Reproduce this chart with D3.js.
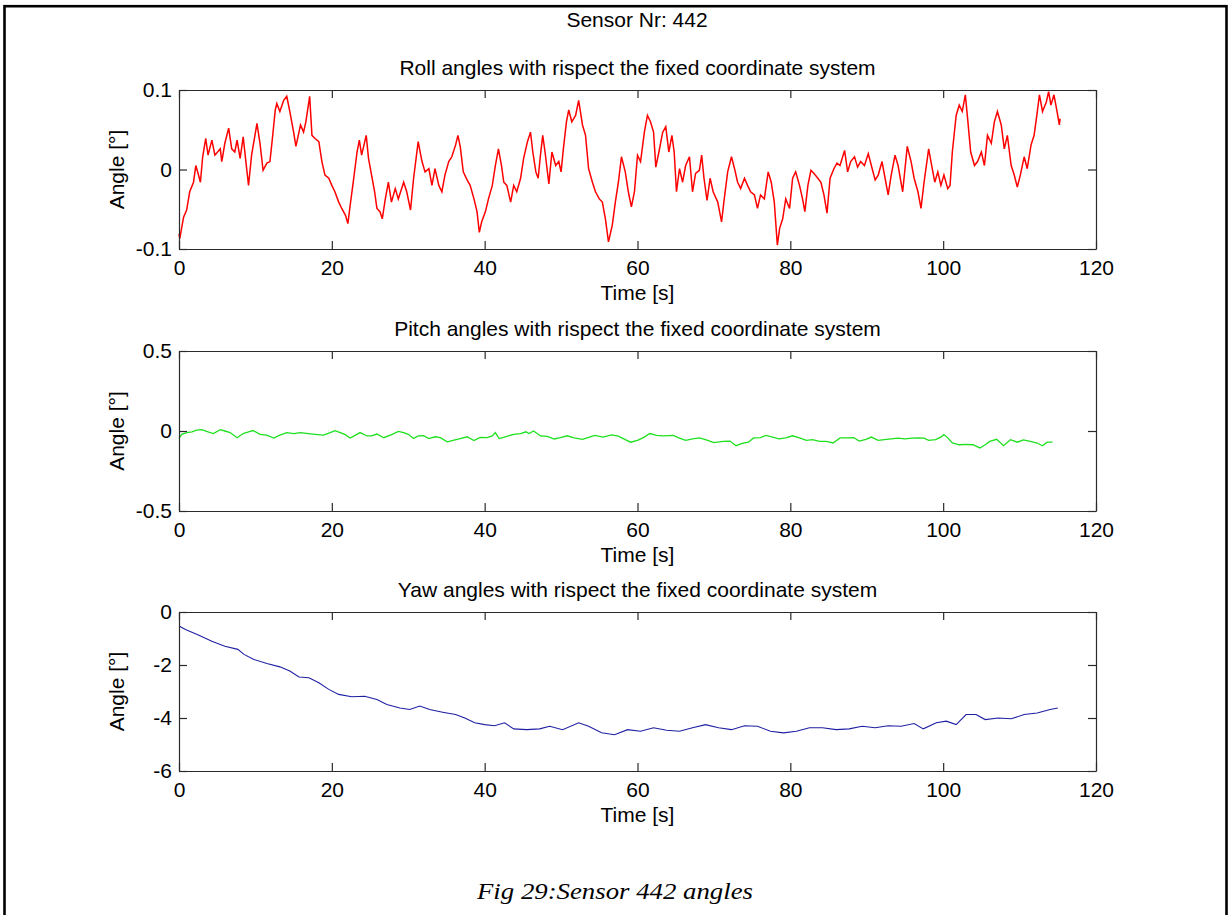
<!DOCTYPE html>
<html>
<head>
<meta charset="utf-8">
<script src="https://cdnjs.cloudflare.com/ajax/libs/d3/7.8.5/d3.min.js"></script>
<style>
  html, body { margin: 0; padding: 0; background: #fff; }
  svg text { font-family: "Liberation Sans", Arial, sans-serif; fill: #000; }
</style>
</head>
<body>
<div id="chart"></div>
<script>
// time ticks shared by the three subplots
var timeTicks = [0, 20, 40, 60, 80, 100, 120];
var rollTicks = [-0.1, 0, 0.1];
var pitchTicks = [-0.5, 0, 0.5];
var yawTicks = [-6, -4, -2, 0];

var figTitle = 'Sensor Nr: 442';
var caption = 'Fig 29:Sensor 442 angles';
var subTitles = [
  'Roll angles with rispect the fixed coordinate system',
  'Pitch angles with rispect the fixed coordinate system',
  'Yaw angles with rispect the fixed coordinate system'
];

// roll
var rollTime = [0,0.1,0.6,1.0,1.4,1.9,2.2,2.5,2.8,3.1,3.5,3.8,4.3,4.7,5.4,5.6,6.0,6.5,6.9,7.3,7.6,8.0,8.4,8.9,9.1,9.5,
  10.2,10.6,11.0,11.5,11.9,12.2,12.6,12.8,13.2,13.7,14.1,14.5,15.0,15.3,15.9,16.3,16.6,17.1,17.4,17.8,18.3,18.7,19.1,19.6,
  20.0,20.4,20.9,21.3,21.8,22.1,22.4,22.8,23.3,23.6,23.9,24.5,24.8,25.2,25.6,25.9,26.3,26.6,27.0,27.4,27.8,28.3,28.7,29.4,29.8,
  30.3,30.7,31.3,31.8,32.2,32.7,33.1,33.5,34.0,34.4,34.8,35.3,35.7,36.2,36.5,36.8,37.2,37.7,38.1,38.6,39.0,39.3,39.6,
  40.1,40.5,41.0,41.4,41.8,42.2,42.5,42.9,43.4,43.8,44.2,44.7,45.1,45.6,46.0,46.3,46.7,47.0,47.3,47.6,47.9,48.4,48.8,49.3,49.7,
  50.0,50.3,50.7,51.0,51.4,51.9,52.3,52.8,53.2,53.6,54.1,54.5,55.0,55.4,55.8,56.2,56.7,57.1,57.5,57.9,58.4,58.8,59.2,59.6,
  60.0,60.4,60.9,61.3,61.7,62.1,62.4,62.8,63.3,63.7,64.1,64.5,64.8,65.1,65.5,65.9,66.3,66.8,67.2,67.6,68.1,68.4,68.7,69.1,69.5,69.9,
  70.5,71.0,71.3,71.8,72.3,72.7,73.1,73.5,74.0,74.4,74.8,75.3,75.7,76.1,76.6,77.1,77.5,77.9,78.3,78.6,79.0,79.4,79.9,
  80.3,80.7,81.2,81.6,81.9,82.3,82.7,83.1,83.6,84.0,84.4,84.8,85.2,85.7,86.1,86.5,87.1,87.5,87.9,88.4,88.8,89.2,89.7,
  90.2,90.6,91.1,91.5,92.0,92.4,92.8,93.2,93.7,94.1,94.7,95.1,95.3,95.8,96.2,96.7,97.1,97.5,98.1,98.5,98.9,99.3,99.7,
  100.1,100.6,100.9,101.2,101.7,102.1,102.5,102.9,103.2,103.6,104.1,104.5,105.0,105.4,105.8,106.3,106.7,107.1,107.6,108.0,108.4,108.9,109.3,109.7,
  110.1,110.6,111.0,111.5,111.9,112.2,112.6,113.0,113.5,113.8,114.1,114.5,114.9,115.2,115.3];
var rollAngle = [-0.081,-0.087,-0.060,-0.051,-0.028,-0.016,0.005,-0.005,-0.016,0.016,0.039,0.018,0.037,0.018,0.026,0.010,0.033,0.052,0.026,0.022,0.037,0.014,0.041,-0.003,-0.020,0.018,
  0.058,0.033,-0.001,0.008,0.010,0.037,0.075,0.083,0.073,0.087,0.092,0.073,0.047,0.029,0.056,0.047,0.060,0.092,0.043,0.039,0.035,0.010,-0.007,-0.011,
  -0.020,-0.028,-0.041,-0.049,-0.058,-0.068,-0.045,-0.016,0.022,0.037,0.018,0.043,0.014,-0.007,-0.028,-0.049,-0.053,-0.062,-0.037,-0.016,-0.041,-0.024,-0.037,-0.016,-0.028,
  -0.051,-0.011,0.035,0.010,-0.003,0.001,-0.020,0.001,-0.020,-0.028,-0.007,0.010,0.016,0.031,0.043,0.029,-0.003,-0.013,-0.020,-0.037,-0.053,-0.079,-0.066,
  -0.053,-0.037,-0.020,0.005,0.026,0.005,-0.016,-0.020,-0.041,-0.020,-0.028,-0.011,0.014,0.035,0.047,0.022,-0.003,-0.011,0.018,0.043,0.022,-0.018,0.022,0.005,0.010,
  -0.003,0.026,0.060,0.075,0.060,0.068,0.087,0.056,0.043,0.001,-0.016,-0.028,-0.037,-0.041,-0.062,-0.091,-0.070,-0.041,-0.016,0.016,-0.003,-0.028,-0.047,-0.028,
  0.018,0.010,0.047,0.068,0.060,0.047,0.003,0.022,0.047,0.054,0.022,0.043,0.022,-0.028,0.001,-0.016,0.005,0.016,-0.028,-0.005,-0.001,0.018,-0.011,-0.039,-0.011,-0.028,
  -0.041,-0.066,-0.041,-0.003,0.016,0.001,-0.016,-0.024,-0.011,-0.020,-0.028,-0.032,-0.049,-0.032,-0.037,-0.003,-0.016,-0.041,-0.095,-0.074,-0.062,-0.037,-0.049,
  -0.011,-0.003,-0.020,-0.037,-0.053,-0.020,-0.001,-0.005,-0.011,-0.016,-0.032,-0.055,-0.011,0.001,0.008,0.005,0.024,-0.003,0.010,0.016,0.003,0.010,0.005,
  0.020,0.005,-0.013,-0.007,0.010,-0.011,-0.032,-0.007,0.018,0.005,-0.028,0.010,0.029,0.010,-0.011,-0.028,-0.049,-0.016,0.026,0.005,-0.016,-0.003,-0.020,
  -0.007,-0.024,-0.020,0.022,0.068,0.081,0.073,0.094,0.064,0.022,0.005,0.010,0.022,0.005,0.043,0.033,0.060,0.073,0.056,0.026,0.043,0.005,-0.007,-0.022,
  -0.007,0.016,0.001,0.031,0.043,0.064,0.094,0.073,0.085,0.098,0.081,0.094,0.073,0.056,0.064];

// pitch
var pitchTime = [0,0.35,1.0,1.7,2.3,3.0,3.6,4.5,5.4,6.0,6.7,7.6,8.4,9.1,9.7,10.6,11.5,12.4,13.2,14.1,15.0,15.9,16.9,17.8,18.9,19.8,
  20.4,21.1,21.7,22.4,23.1,23.7,24.6,25.2,25.9,26.8,27.9,28.7,29.4,30.0,30.7,31.3,32.0,32.7,33.5,34.2,35.1,36.0,36.8,37.7,38.6,39.4,
  40.3,41.0,41.4,41.9,42.7,43.8,44.7,45.4,45.8,46.4,47.3,48.2,49.1,49.9,50.8,51.7,52.8,53.7,54.4,55.5,56.6,57.5,58.4,59.1,
  60.0,60.9,61.6,62.5,63.4,64.7,65.4,66.3,67.2,68.1,68.9,70.0,71.2,72.1,72.9,73.7,74.5,75.2,76.1,76.8,77.7,78.5,79.4,
  80.3,81.2,82.1,82.9,83.8,84.7,85.6,86.5,87.4,88.3,89.0,89.9,90.6,91.5,92.3,93.2,94.1,95.0,95.9,96.8,97.5,98.1,99.0,99.7,
  100.1,100.6,101.2,102.1,103.0,103.9,104.8,105.5,106.1,107.0,107.9,108.8,109.7,110.5,111.4,112.3,113.0,113.6,114.3];
var pitchAngle = [-0.047,-0.021,-0.010,-0.005,0.005,0.008,-0.003,-0.016,0.008,0.000,-0.010,-0.042,-0.016,-0.005,0.003,-0.021,-0.026,-0.044,-0.026,-0.010,-0.016,-0.010,-0.016,-0.021,-0.026,-0.010,
  0.002,-0.010,-0.021,-0.044,-0.026,-0.010,-0.031,-0.031,-0.019,-0.042,-0.021,-0.003,-0.010,-0.021,-0.047,-0.031,-0.029,-0.047,-0.036,-0.042,-0.068,-0.057,-0.047,-0.036,-0.060,-0.040,
  -0.042,-0.031,-0.010,-0.047,-0.036,-0.021,-0.016,-0.005,-0.016,0.000,-0.031,-0.033,-0.050,-0.042,-0.030,-0.043,-0.052,-0.038,-0.027,-0.038,-0.024,-0.032,-0.054,-0.070,
  -0.059,-0.038,-0.016,-0.027,-0.030,-0.027,-0.043,-0.059,-0.049,-0.043,-0.054,-0.073,-0.065,-0.063,-0.092,-0.078,-0.070,-0.043,-0.041,-0.027,-0.038,-0.049,-0.043,
  -0.030,-0.043,-0.059,-0.054,-0.065,-0.065,-0.075,-0.043,-0.043,-0.041,-0.063,-0.052,-0.038,-0.059,-0.054,-0.049,-0.045,-0.049,-0.045,-0.043,-0.045,-0.059,-0.054,-0.038,
  -0.022,-0.043,-0.075,-0.086,-0.084,-0.086,-0.106,-0.086,-0.065,-0.052,-0.092,-0.054,-0.070,-0.056,-0.065,-0.075,-0.092,-0.070,-0.070];

// yaw
var yawTime = [0,0.85,2.6,4.3,6.0,7.7,8.5,9.8,11.5,13.2,14.5,15.7,17.0,18.3,19.6,20.9,22.6,24.3,25.9,27.2,28.9,30.2,31.5,32.8,34.5,36.2,37.4,38.7,
  40.0,41.3,42.6,43.8,45.5,47.2,48.5,50.2,52.3,53.6,55.3,57.0,58.7,60.4,62.1,63.8,65.5,67.2,68.9,70.6,72.3,74.0,75.7,77.4,79.1,
  80.8,82.5,84.2,86.0,87.7,89.4,91.1,92.8,94.5,96.2,97.4,99.1,100.4,101.7,103.0,104.3,105.5,107.2,108.9,110.6,112.3,114.0,115.0];
var yawAngle = [-0.53,-0.66,-0.88,-1.10,-1.29,-1.41,-1.60,-1.79,-1.94,-2.07,-2.23,-2.45,-2.48,-2.67,-2.92,-3.11,-3.20,-3.18,-3.30,-3.49,-3.62,-3.68,-3.55,-3.68,-3.78,-3.87,-4.00,-4.18,
  -4.25,-4.29,-4.18,-4.41,-4.44,-4.41,-4.31,-4.44,-4.18,-4.31,-4.56,-4.63,-4.44,-4.50,-4.37,-4.46,-4.50,-4.37,-4.25,-4.37,-4.44,-4.29,-4.31,-4.50,-4.56,
  -4.50,-4.37,-4.37,-4.44,-4.41,-4.31,-4.37,-4.29,-4.31,-4.21,-4.41,-4.18,-4.12,-4.25,-3.87,-3.87,-4.06,-4.00,-4.03,-3.87,-3.81,-3.68,-3.62];

var width = 1228, height = 915;
var svg = d3.select('#chart').append('svg')
    .attr('width', width)
    .attr('height', height);

// page frame (only top, left and right sides are inside the shot)
svg.append('rect')
    .attr('x', 4.5).attr('y', 6.2)
    .attr('width', 1222).attr('height', 930)
    .attr('fill', 'none')
    .attr('stroke', '#000')
    .attr('stroke-width', 2.6);

svg.append('text')
    .attr('x', 637).attr('y', 27)
    .attr('text-anchor', 'middle')
    .style('font-size', '21px')
    .text(figTitle);

var x = d3.scaleLinear().domain([0, 120]).range([179, 1096]);

var panels = [
  { title: subTitles[0], time: rollTime, angle: rollAngle, ticks: rollTicks, domain: [-0.1, 0.1], top: 90, bottom: 249, color: '#ff0000', lw: 1.5 },
  { title: subTitles[1], time: pitchTime, angle: pitchAngle, ticks: pitchTicks, domain: [-0.5, 0.5], top: 351, bottom: 511, color: '#1ee01e', lw: 1.3 },
  { title: subTitles[2], time: yawTime, angle: yawAngle, ticks: yawTicks, domain: [-6, 0], top: 612, bottom: 771, color: '#1f1fa3', lw: 1.1 }
];

var axisColor = '#2a2a2a';

function drawPanel(p) {
    var y = d3.scaleLinear().domain(p.domain).range([p.bottom, p.top]);
    var g = svg.append('g');

    // the series
    var pts = p.time.map(function(t, i) { return [t, p.angle[i]]; });
    var line = d3.line()
      .x(function(d) { return x(d[0]); })
      .y(function(d) { return y(d[1]); });
    g.append('path')
      .datum(pts)
      .attr('d', line)
      .attr('fill', 'none')
      .attr('stroke', p.color)
      .attr('stroke-width', p.lw)
      .attr('stroke-linejoin', 'miter');

    // matlab style box with inward ticks
    var bottom = g.append('g').attr('transform', 'translate(0,' + p.bottom + ')')
      .call(d3.axisBottom(x).tickValues(timeTicks).tickSizeInner(-8).tickSizeOuter(0).tickPadding(11).tickFormat(String));
    var topAx = g.append('g').attr('transform', 'translate(0,' + p.top + ')')
      .call(d3.axisTop(x).tickValues(timeTicks).tickSizeInner(-8).tickSizeOuter(0).tickFormat(''));
    var left = g.append('g').attr('transform', 'translate(179,0)')
      .call(d3.axisLeft(y).tickValues(p.ticks).tickSizeInner(-8).tickSizeOuter(0).tickPadding(7).tickFormat(String));
    var right = g.append('g').attr('transform', 'translate(1096,0)')
      .call(d3.axisRight(y).tickValues(p.ticks).tickSizeInner(-8).tickSizeOuter(0).tickFormat(''));

    [bottom, topAx, left, right].forEach(function(a) {
        a.select('.domain').attr('stroke', axisColor).attr('stroke-width', 1.2);
        a.selectAll('.tick line').attr('stroke', axisColor).attr('stroke-width', 1.2);
        a.selectAll('.tick text')
          .attr('fill', '#000')
          .style('font-family', '"Liberation Sans", Arial, sans-serif')
          .style('font-size', '21px');
    });

    g.append('text')
      .attr('x', 637.5).attr('y', p.top - 15.5)
      .attr('text-anchor', 'middle')
      .style('font-size', '21px')
      .text(p.title);

    g.append('text')
      .attr('x', 637.5).attr('y', p.bottom + 51)
      .attr('text-anchor', 'middle')
      .style('font-size', '21px')
      .text('Time [s]');

    g.append('text')
      .attr('transform', 'translate(124,' + ((p.top + p.bottom) / 2) + ') rotate(-90)')
      .attr('text-anchor', 'middle')
      .style('font-size', '21px')
      .text('Angle [°]');
}

panels.forEach(drawPanel);

svg.append('text')
    .attr('x', 477).attr('y', 899)
    .attr('textLength', 276)
    .attr('lengthAdjust', 'spacingAndGlyphs')
    .style('font-family', '"Liberation Serif", "Times New Roman", serif')
    .style('font-style', 'italic')
    .style('font-size', '23px')
    .text(caption);
</script>
</body>
</html>
